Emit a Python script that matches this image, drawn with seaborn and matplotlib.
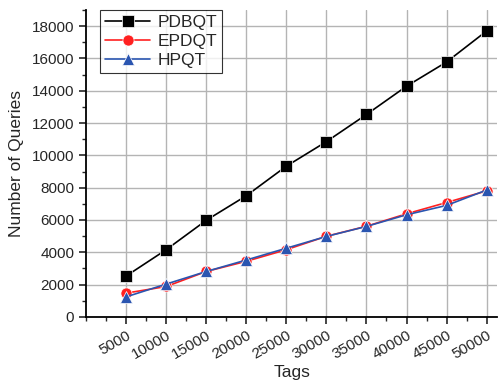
import numpy as np
import pandas as pd
import seaborn as sns
from matplotlib import pyplot as plt
from matplotlib.ticker import MultipleLocator

# data
tags = [5000, 10000, 15000, 20000, 25000, 30000, 35000, 40000, 45000, 50000]
pdbqt = [2530, 4160, 5980, 7500, 9330, 10850, 12530, 14280, 15780, 17700]
epdqt = [1470, 1880, 2810, 3440, 4160, 4990, 5610, 6380, 7080, 7800]
hpqt = [1240, 2030, 2810, 3520, 4250, 4980, 5600, 6320, 6900, 7850]
series = ['PDBQT', 'EPDQT', 'HPQT']

df = pd.DataFrame({
    'Tags': tags * 3,
    'Queries': pdbqt + epdqt + hpqt,
    'series': np.repeat(series, len(tags)),
})

sns.set_style('white')
plt.rcParams['font.family'] = ['Liberation Sans', 'DejaVu Sans']

fig = plt.figure(figsize=(4.98, 3.85), dpi=100)
ax = fig.add_axes([0.173, 0.177, 0.825, 0.797])

palette = {'PDBQT': '#000000', 'EPDQT': '#ff2020', 'HPQT': '#2a55b0'}
markers = {'PDBQT': 's', 'EPDQT': 'o', 'HPQT': '^'}
sns.lineplot(data=df, x='Tags', y='Queries', hue='series', style='series',
             palette=palette, markers=markers, dashes=False, markersize=8,
             linewidth=1.2, markeredgewidth=0.5, ax=ax)

ax.set_xlim(0, 51300)
ax.set_ylim(0, 19000)
ax.set_xticks(tags)
ax.set_xticklabels([str(t) for t in tags], rotation=30, fontsize=11,
                   ha='right', va='top', rotation_mode='anchor')
ax.xaxis.set_minor_locator(MultipleLocator(2500))
ax.set_yticks(range(0, 18001, 2000))
ax.yaxis.set_minor_locator(MultipleLocator(1000))
ax.tick_params(axis='y', labelsize=11)
ax.tick_params(which='major', direction='out', length=5, width=1.2,
               bottom=True, left=True)
ax.tick_params(which='minor', direction='out', length=3, width=1,
               bottom=True, left=True)
ax.grid(True, which='major', color='#b4b4b4', linewidth=1.0)
for side in ['top', 'right']:
    ax.spines[side].set_visible(False)
for side in ['left', 'bottom']:
    ax.spines[side].set_color('black')
    ax.spines[side].set_linewidth(1.3)

ax.set_xlabel('Tags', fontsize=12.5, labelpad=2)
ax.set_ylabel('Number of Queries', fontsize=12.5, labelpad=6)

leg = ax.legend(loc='upper left', bbox_to_anchor=(0.034, 1.0), fontsize=12.5,
                frameon=True, fancybox=False, edgecolor='black',
                handlelength=2.6, borderpad=0.3, labelspacing=0.2,
                borderaxespad=0, handletextpad=0.4)
leg.get_frame().set_linewidth(0.8)

plt.savefig('out.png', dpi=100)
